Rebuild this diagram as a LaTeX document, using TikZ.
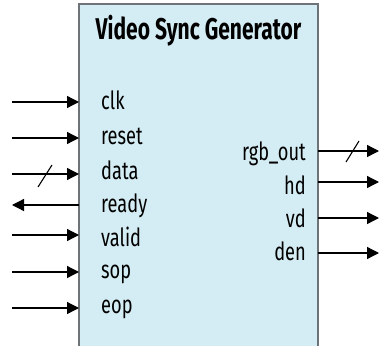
\documentclass[tikz,border=0pt]{standalone}
\usepackage{fontspec}
\setmainfont{Fira Sans}[FakeStretch=0.7]
\newfontfamily\lblfont{Fira Sans}[FakeStretch=0.73]
\usetikzlibrary{arrows.meta}
\definecolor{boxfill}{HTML}{D4ECF3}
\definecolor{boxline}{HTML}{6E7377}
\tikzset{
  sig/.style={draw=black, line width=1.3pt, -{Triangle[length=12pt,width=12pt]}},
  lbl/.style={inner sep=0pt, font=\lblfont\fontsize{25}{25}\selectfont},
  bus/.style={draw=black, line width=1.1pt},
}
\begin{document}
\begin{tikzpicture}[x=1pt,y=-1pt]
\useasboundingbox (0,0) rectangle (379,345);
\fill[boxfill] (79,4) rectangle (318,346);
\draw[boxline, line width=2pt] (79,346) -- (79,4) -- (318,4) -- (318,346);
\node[inner sep=0pt, anchor=base, font=\bfseries\fontsize{30}{30}\selectfont] (title) at (198.5,40) {Video Sync Generator};
% left side
\foreach \n/\ay/\by in {clk/102/109, reset/138/144, data/174/179, ready/205/212, valid/235/246, sop/272/278, eop/308/313}{
  \coordinate (\n-in) at (79,\ay);
  \coordinate (\n-out) at (12,\ay);
  \node[lbl, anchor=base west] (\n) at (101,\by) {\n};
}
\foreach \n in {clk, reset, data, valid, sop, eop}{
  \draw[sig] (\n-out) -- (\n-in);
}
\draw[sig] (ready-in) -- (ready-out);
\coordinate (ds1) at (38,187);
\coordinate (ds2) at (52,165);
\draw[bus] (ds1) -- (ds2);
% right side
\foreach \n/\t/\ay/\by in {rgb/rgb\_out/151/160, hd/hd/182/194, vd/vd/218/227, den/den/253/260}{
  \coordinate (\n-in) at (318,\ay);
  \coordinate (\n-out) at (379,\ay);
  \node[lbl, anchor=base east] (\n) at (306,\by) {\t};
  \draw[sig] (\n-in) -- (\n-out);
}
\coordinate (rs1) at (346,162);
\coordinate (rs2) at (359,141);
\draw[bus] (rs1) -- (rs2);
\end{tikzpicture}
\end{document}
